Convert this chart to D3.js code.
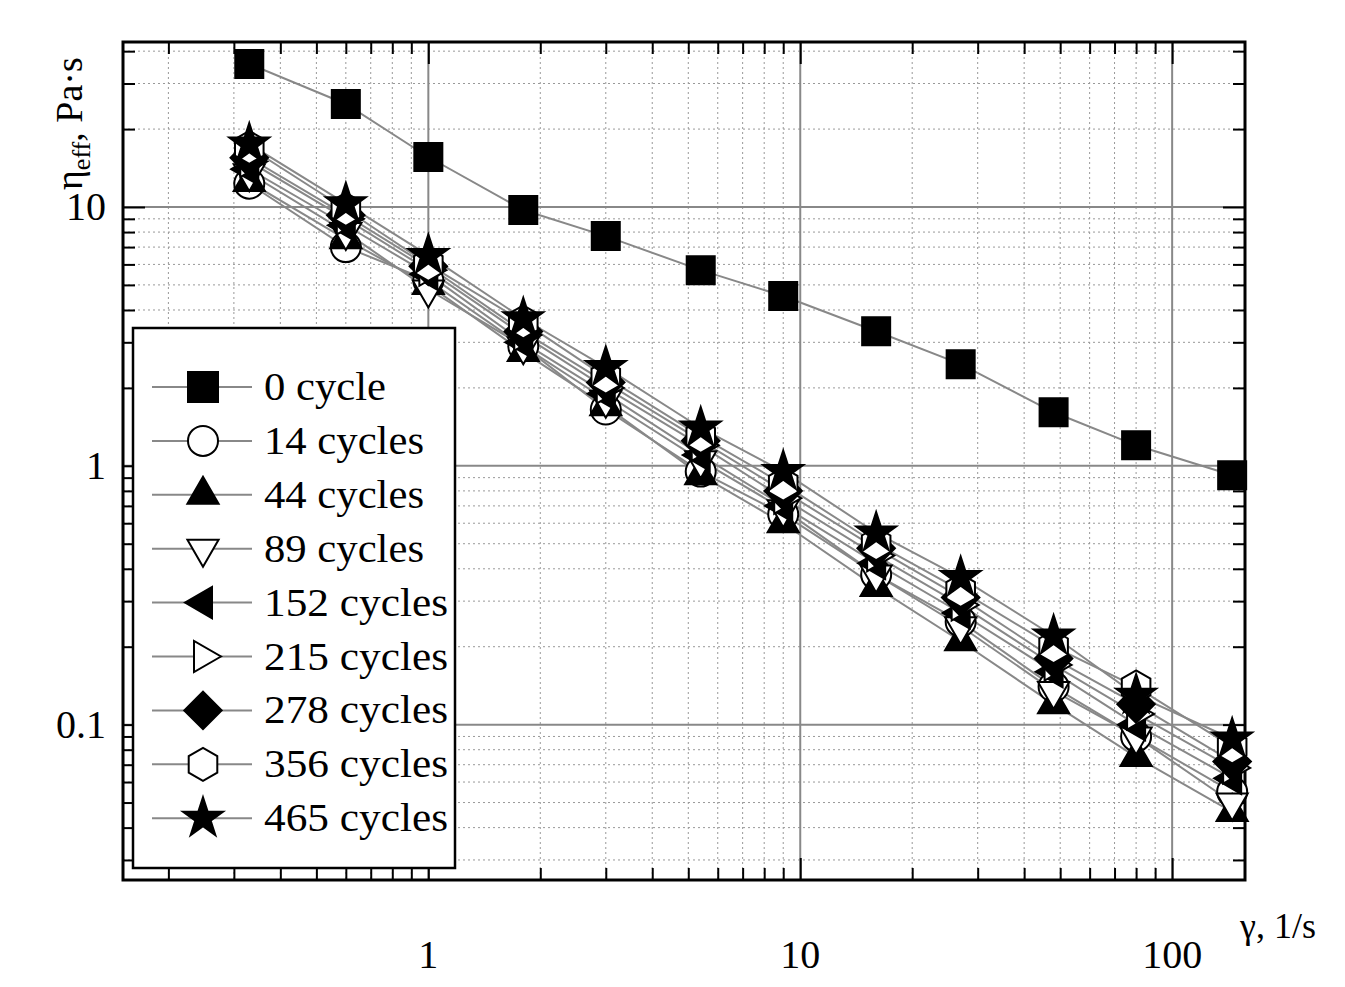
<!DOCTYPE html><html><head><meta charset="utf-8">
<script src="https://cdn.jsdelivr.net/npm/d3@7"></script>
<style>body{margin:0;background:#fff}text{font-family:"Liberation Serif","Times New Roman",serif}</style>
</head><body><svg id="c" width="1345" height="987"></svg>
<script>
const shearRates=[0.33,0.6,1,1.8,3,5.4,9,16,27,48,80,145];
const labels=["0 cycle","14 cycles","44 cycles","89 cycles","152 cycles","215 cycles","278 cycles","356 cycles","465 cycles"];
const markers=["square","circle","triUp","triDown","triLeft","triRight","diamond","hexagon","star"];
const fills=["#000","#fff","#000","#fff","#000","#fff","#000","#fff","#000"];
const s0=[35.7,25,15.6,9.73,7.72,5.7,4.53,3.31,2.47,1.61,1.2,0.92];
const s14=[12.3,7.0,5.2,2.9,1.65,0.95,0.65,0.38,0.25,0.14,0.09,0.055];
const s44=[12.5,7.5,5.0,2.75,1.7,0.92,0.6,0.34,0.21,0.12,0.075,0.046];
const s89=[13.5,8.0,4.8,2.9,1.8,1.05,0.68,0.38,0.24,0.135,0.09,0.05];
const s152=[14,8.5,5.5,3.0,1.9,1.1,0.7,0.42,0.27,0.16,0.1,0.062];
const s215=[15,9.0,5.7,3.2,2.0,1.2,0.75,0.45,0.29,0.17,0.11,0.068];
const s278=[15.5,9.3,5.9,3.3,2.1,1.25,0.8,0.48,0.31,0.18,0.12,0.072];
const s356=[17,9.8,6.0,3.6,2.2,1.3,0.85,0.5,0.33,0.2,0.14,0.082];
const s465=[17.5,10.3,6.5,3.7,2.4,1.4,0.95,0.55,0.37,0.22,0.13,0.088];
const series=[s0,s14,s44,s89,s152,s215,s278,s356,s465];
const xTicks=[1,10,100], yTicks=[0.1,1,10];

const svg=d3.select("#c");
const L=123,R=1245,T=42,B=880;
const x=d3.scaleLog().domain([0.151,157]).range([L,R]);
const y=d3.scaleLog().domain([0.0251,43.4]).range([B,T]);
const g=svg.append("g");
const minorX=[],minorY=[];
for(let d=0.1;d<1000;d*=10)for(let k=1;k<10;k++){const v=d*k;if(v>0.151&&v<157&&k!==1)minorX.push(v);}
for(let d=0.01;d<100;d*=10)for(let k=1;k<10;k++){const v=d*k;if(v>0.0251&&v<43.4&&k!==1)minorY.push(v);}
minorX.forEach(v=>g.append("line").attr("x1",x(v)).attr("x2",x(v)).attr("y1",T).attr("y2",B).attr("stroke","#999").attr("stroke-dasharray","2,3"));
minorY.forEach(v=>g.append("line").attr("y1",y(v)).attr("y2",y(v)).attr("x1",L).attr("x2",R).attr("stroke","#999").attr("stroke-dasharray","2,3"));
xTicks.forEach(v=>g.append("line").attr("x1",x(v)).attr("x2",x(v)).attr("y1",T).attr("y2",B).attr("stroke","#888").attr("stroke-width",2));
yTicks.forEach(v=>g.append("line").attr("y1",y(v)).attr("y2",y(v)).attr("x1",L).attr("x2",R).attr("stroke","#888").attr("stroke-width",2));
const allX=minorX.concat(xTicks), allY=minorY.concat(yTicks);
[[B,-1],[T,1]].forEach(([yy,sg])=>{const gg=svg.append("g").attr("transform",`translate(0,${yy})`).call(d3.axisBottom(x).tickValues(allX).tickFormat("").tickSizeOuter(0));gg.selectAll("line").attr("stroke-width",2).attr("y2",d=>sg*(xTicks.includes(d)?22:12));gg.select(".domain").remove();});
[[L,1],[R,-1]].forEach(([xx,sg])=>{const gg=svg.append("g").attr("transform",`translate(${xx},0)`).call(d3.axisLeft(y).tickValues(allY).tickFormat("").tickSizeOuter(0));gg.selectAll("line").attr("stroke-width",2).attr("x2",d=>sg*(yTicks.includes(d)?22:12));gg.select(".domain").remove();});
xTicks.forEach(v=>svg.append("text").attr("x",x(v)).attr("y",968).attr("text-anchor","middle").attr("font-size",40).text(v));
yTicks.forEach(v=>svg.append("text").attr("x",106).attr("y",y(v)+13).attr("text-anchor","end").attr("font-size",40).text(v));
svg.append("rect").attr("x",L).attr("y",T).attr("width",R-L).attr("height",B-T).attr("fill","none").attr("stroke","#000").attr("stroke-width",3);
const yl=svg.append("text").attr("transform","translate(82,190) rotate(-90)").attr("font-size",38);
yl.append("tspan").text("η");yl.append("tspan").attr("font-size",26).attr("dy",8).text("eff");yl.append("tspan").attr("dy",-8).text(", Pa·s");
svg.append("text").attr("x",1240).attr("y",938).attr("font-size",36).text("γ, 1/s");
function mk(type,r){
 const p=(pts)=>"M"+pts.map(a=>a.map(v=>v.toFixed(2)).join(",")).join("L")+"Z";
 const poly=(n,rr,off)=>d3.range(n).map(i=>{const a=off+i*2*Math.PI/n;return[rr*Math.cos(a),rr*Math.sin(a)];});
 switch(type){
  case"square":return p([[-r,-r],[r,-r],[r,r],[-r,r]]);
  case"circle":return d3.symbol(d3.symbolCircle,Math.PI*r*r)();
  case"triUp":return p(poly(3,r*1.2,-Math.PI/2));
  case"triDown":return p(poly(3,r*1.2,Math.PI/2));
  case"triLeft":return p(poly(3,r*1.2,Math.PI));
  case"triRight":return p(poly(3,r*1.2,0));
  case"diamond":return p(poly(4,r*1.25,0));
  case"hexagon":return p(poly(6,r*1.1,Math.PI/2));
  case"star":return d3.symbol(d3.symbolStar,r*r*2.2)();
 }}
const line=d3.line().x(d=>x(d[0])).y(d=>y(d[1]));
const plot=svg.append("g");
series.forEach((s,i)=>plot.append("path").attr("d",line(shearRates.map((v,j)=>[v,s[j]]))).attr("fill","none").attr("stroke","#888").attr("stroke-width",2));
series.forEach((s,i)=>shearRates.forEach((v,j)=>plot.append("path").attr("d",mk(markers[i],i==0?14:15)).attr("transform",`translate(${x(v)},${y(s[j])})`).attr("fill",fills[i]).attr("stroke","#000").attr("stroke-width",2)));
const lg=svg.append("g");
lg.append("rect").attr("x",133).attr("y",328).attr("width",322).attr("height",540).attr("fill","#fff").attr("stroke","#000").attr("stroke-width",2.5);
labels.forEach((t,i)=>{const yy=387+i*53.9;
 lg.append("line").attr("x1",152).attr("x2",252).attr("y1",yy).attr("y2",yy).attr("stroke","#888").attr("stroke-width",2);
 lg.append("path").attr("d",mk(markers[i],15)).attr("transform",`translate(203,${yy})`).attr("fill",fills[i]).attr("stroke","#000").attr("stroke-width",2);
 lg.append("text").attr("x",264).attr("y",yy+13).attr("font-size",39).attr("textLength",t.length>7?(t.length===9?160:184):122).attr("lengthAdjust","spacingAndGlyphs").text(t);});
</script></body></html>
